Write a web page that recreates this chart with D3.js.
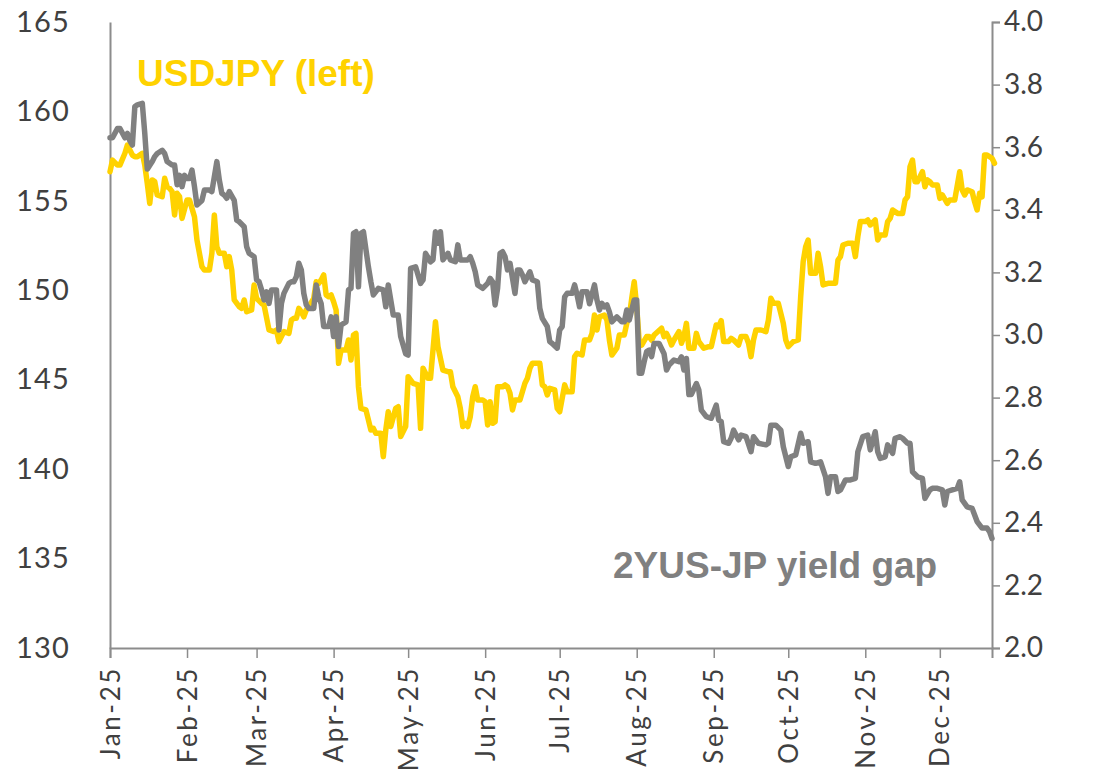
<!DOCTYPE html>
<html>
<head>
<meta charset="utf-8">
<script src="https://cdn.jsdelivr.net/npm/d3@7"></script>
<style>
  html, body { margin: 0; padding: 0; background: #fff; }
  svg { display: block; }
  .tick-label { font-family: "Lato", "Open Sans", sans-serif; font-weight: 400; fill: #404040; }
  .note { font-family: "Liberation Sans", Arial, sans-serif; font-weight: bold; }
</style>
</head>
<body>
<svg id="chart" width="1102" height="776"></svg>
<script>
// Calendar start of the series; day offsets below count from this date
const startDate = new Date(2025, 0, 1);
const endDay = 355;

const monthLabels = ["Jan-25","Feb-25","Mar-25","Apr-25","May-25","Jun-25","Jul-25","Aug-25","Sep-25","Oct-25","Nov-25","Dec-25"];
const leftTicks = [130, 135, 140, 145, 150, 155, 160, 165];
const rightTicks = [2.0, 2.2, 2.4, 2.6, 2.8, 3.0, 3.2, 3.4, 3.6, 3.8, 4.0];

// USDJPY spot (left axis)
const usdjpyDay = [0,1,3,4,6,7,9,10,11,13,14,15,16,17,18,19,21,22,23,24,25,26,27,28,29,31,32,33,34,35,37,38,40,41,42,43,44,46,47,48,49,50,52,53,54,55,57,58,59,61,62,64,66,67,68,70,72,73,74,75,76,77,78,79,80,82,83,84,85,86,87,88,89,90,91,92,93,95,96,97,98,99,100,101,103,104,105,106,107,109,110,111,112,113,115,116,117,119,120,122,124,125,126,128,129,131,132,134,136,137,138,140,141,142,143,144,145,146,147,148,150,151,152,153,154,155,156,158,159,160,161,162,163,165,167,168,169,170,173,174,175,176,177,179,180,181,183,184,186,187,188,190,191,193,194,195,196,197,199,200,201,202,204,205,207,208,209,210,211,212,213,214,216,217,218,219,222,223,224,225,226,227,229,230,231,232,233,235,236,237,239,241,242,244,245,246,247,249,250,251,253,254,256,257,258,259,260,262,264,265,266,267,269,271,272,273,275,277,278,279,280,281,282,284,285,286,287,289,292,293,294,295,297,299,300,301,302,304,305,306,308,309,310,312,313,314,315,317,319,320,321,322,323,324,325,327,328,329,330,331,333,334,335,337,338,340,342,343,344,345,347,348,349,350,351,352,353,355,356];
const usdjpyValue = [156.63,157.28,157.0,157.0,157.66,158.12,157.56,157.47,157.47,157.66,157.0,155.98,154.86,156.17,156.08,155.33,155.23,156.26,155.79,155.70,155.51,154.21,155.42,155.23,154.02,155.05,155.05,154.58,154.11,152.81,151.32,151.13,151.13,152.07,154.21,152.44,152.07,152.07,151.32,151.88,151.13,149.46,149.08,148.99,149.46,148.80,148.90,150.30,149.55,149.27,149.18,147.78,147.69,147.78,147.13,147.69,147.59,148.34,148.43,148.43,148.99,148.80,148.52,148.90,149.08,149.55,150.48,150.39,150.58,150.86,149.74,149.64,149.74,149.36,148.90,145.92,146.66,146.66,147.22,146.10,147.50,147.59,144.61,143.40,143.31,142.75,142.19,142.28,142.0,142.0,140.70,142.19,143.21,142.38,143.40,143.49,141.82,142.38,145.17,144.80,144.71,142.28,145.64,145.08,145.08,148.24,146.85,145.54,145.45,145.45,144.61,144.05,143.40,142.38,142.56,142.38,142.93,144.05,144.61,143.87,143.87,143.77,142.47,143.77,142.56,142.65,144.61,144.61,144.71,144.61,144.24,143.31,143.87,143.87,144.80,145.08,145.64,145.92,145.92,144.71,144.61,144.15,144.52,144.43,143.40,143.21,144.71,144.33,144.33,146.29,146.48,146.38,147.22,147.22,147.59,148.62,147.78,148.52,148.62,148.34,147.22,146.38,146.76,147.50,147.50,148.15,148.52,149.55,150.48,149.08,147.13,146.94,147.41,147.41,147.22,147.50,147.88,147.41,147.59,147.31,146.94,147.22,147.69,147.04,147.41,148.15,146.76,146.76,147.59,147.13,146.76,146.85,146.85,148.06,147.97,148.30,147.13,147.13,147.31,147.22,146.94,147.41,147.41,147.04,146.29,147.22,147.78,147.78,147.69,148.34,149.55,149.27,149.27,148.15,147.22,146.85,147.13,147.22,149.64,151.60,152.44,152.81,150.95,150.95,152.07,151.32,150.30,150.39,150.39,151.69,151.88,152.53,152.63,152.63,151.88,153.0,153.84,153.84,153.93,153.65,153.93,152.81,153.09,153.09,153.84,154.02,154.49,154.30,154.30,155.05,155.23,156.91,157.28,156.07,156.07,156.63,155.79,156.17,156.07,155.89,155.89,155.14,155.33,154.86,155.05,155.05,156.63,155.61,155.33,155.61,155.51,154.95,154.49,155.42,155.23,157.56,157.56,157.38,157.10];

// US-Japan 2-year yield gap, percentage points (right axis)
const gapDay = [0,1,3,4,6,7,8,9,10,11,13,14,15,17,18,19,21,22,23,25,26,27,28,29,30,31,32,33,34,35,37,38,40,41,42,43,44,45,46,47,48,50,51,52,54,55,56,58,59,60,61,62,63,64,65,67,68,69,70,72,73,74,75,76,77,78,79,80,82,83,84,85,86,88,89,90,91,92,93,95,96,97,98,99,100,101,102,104,105,106,108,110,111,112,113,114,116,117,119,120,121,123,125,126,127,129,130,131,132,133,134,136,137,139,140,141,144,145,146,147,148,150,152,153,154,155,156,157,158,159,160,161,162,163,164,165,166,167,168,169,170,172,173,174,176,177,178,180,181,182,183,184,186,187,188,189,190,192,193,195,196,197,198,199,200,201,202,204,206,207,208,209,210,211,212,213,214,215,216,217,218,219,221,223,224,225,227,229,230,231,232,233,234,236,237,238,240,242,244,245,246,247,249,250,251,253,254,256,258,259,261,264,265,266,268,270,271,273,274,276,278,279,281,282,284,286,288,289,290,292,293,294,296,298,300,301,303,305,306,308,309,310,312,313,315,316,318,319,321,322,323,325,327,328,330,331,333,335,336,337,339,341,342,343,345,347,349,351,353,354,355];
const gapValue = [3.63,3.63,3.66,3.66,3.63,3.644,3.62,3.607,3.73,3.735,3.74,3.644,3.53,3.554,3.57,3.58,3.59,3.58,3.554,3.543,3.543,3.48,3.51,3.474,3.51,3.50,3.50,3.527,3.474,3.415,3.43,3.463,3.463,3.458,3.506,3.554,3.495,3.453,3.447,3.437,3.458,3.43,3.367,3.362,3.346,3.282,3.261,3.25,3.176,3.17,3.144,3.112,3.138,3.101,3.144,3.144,3.016,3.101,3.133,3.165,3.17,3.17,3.186,3.229,3.208,3.133,3.096,3.085,3.085,3.16,3.122,3.10,3.027,3.027,3.058,2.995,3.058,2.963,3.032,3.042,3.144,3.149,3.325,3.33,3.154,3.325,3.33,3.218,3.17,3.128,3.149,3.144,3.09,3.16,3.112,3.064,3.064,2.995,2.94,2.936,3.213,3.218,3.165,3.176,3.261,3.234,3.24,3.33,3.293,3.33,3.24,3.261,3.24,3.234,3.288,3.24,3.24,3.25,3.229,3.202,3.16,3.149,3.165,3.181,3.17,3.096,3.149,3.261,3.266,3.25,3.208,3.229,3.181,3.133,3.208,3.208,3.192,3.17,3.186,3.202,3.176,3.17,3.085,3.053,3.027,2.979,2.973,2.958,3.016,3.027,3.122,3.133,3.133,3.16,3.128,3.09,3.138,3.138,3.10,3.16,3.112,3.08,3.101,3.09,3.096,3.074,3.042,3.058,3.042,3.042,3.08,3.048,3.08,3.112,3.112,2.878,2.878,2.915,2.947,2.952,2.931,2.973,2.973,2.94,2.888,2.904,2.92,2.915,2.93,2.888,2.925,2.81,2.81,2.845,2.824,2.76,2.739,2.734,2.776,2.728,2.723,2.659,2.654,2.67,2.696,2.665,2.68,2.675,2.627,2.675,2.654,2.649,2.654,2.712,2.712,2.696,2.643,2.58,2.611,2.617,2.686,2.654,2.659,2.595,2.59,2.595,2.547,2.494,2.547,2.547,2.50,2.505,2.537,2.537,2.542,2.627,2.675,2.68,2.633,2.691,2.627,2.606,2.611,2.649,2.622,2.67,2.675,2.67,2.654,2.654,2.563,2.547,2.542,2.478,2.505,2.51,2.51,2.505,2.457,2.50,2.505,2.51,2.531,2.473,2.451,2.446,2.404,2.383,2.383,2.372,2.35];

const svg = d3.select("#chart");
const margin = { left: 110, right: 110, top: 22, bottom: 128 };
const W = 1102, H = 776;
const x0 = margin.left, x1 = W - margin.right;
const y0 = H - margin.bottom, y1 = margin.top;

const toDate = d => d3.timeDay.offset(startDate, d);

const x = d3.scaleTime().domain([startDate, toDate(endDay)]).range([x0, x1]);
const yLeft = d3.scaleLinear().domain([130, 165]).range([y0, y1]);
const yRight = d3.scaleLinear().domain([2.0, 4.0]).range([y0, y1]);

const axisColor = "#8c8c8c";

// Bottom axis with month ticks
const monthStarts = d3.range(12).map(m => new Date(2025, m, 1));
const xAxis = d3.axisBottom(x).tickValues(monthStarts).tickSize(10).tickFormat((d, i) => monthLabels[i]);
const gx = svg.append("g").attr("transform", `translate(0,${y0})`).call(xAxis);
gx.select(".domain").attr("stroke", axisColor).attr("stroke-width", 2);
gx.selectAll(".tick line").attr("stroke", axisColor).attr("stroke-width", 1.5);
gx.selectAll(".tick text")
  .attr("class", "tick-label")
  .attr("font-size", 26)
  .attr("letter-spacing", "2.6px")
  .attr("text-anchor", "end")
  .attr("dy", "0.35em")
  .attr("transform", "translate(0,18) rotate(-90)")
  .attr("x", 0).attr("y", 0);

// Left axis: line only, labels to the left
const yAxisL = d3.axisLeft(yLeft).tickValues(leftTicks).tickSize(0).tickPadding(40).tickFormat(d3.format("d"));
const gl = svg.append("g").attr("transform", `translate(${x0},0)`).call(yAxisL);
gl.select(".domain").attr("stroke", axisColor).attr("stroke-width", 2);
gl.selectAll(".tick text").attr("class", "tick-label").attr("font-size", 29).attr("letter-spacing", "1.2px");

// Right axis with outward ticks
const yAxisR = d3.axisRight(yRight).tickValues(rightTicks).tickSize(8).tickPadding(4).tickFormat(d3.format(".1f"));
const gr = svg.append("g").attr("transform", `translate(${x1},0)`).call(yAxisR);
gr.select(".domain").attr("stroke", axisColor).attr("stroke-width", 2);
gr.selectAll(".tick line").attr("stroke", axisColor).attr("stroke-width", 1.5);
gr.selectAll(".tick text").attr("class", "tick-label").attr("font-size", 28);

// Series lines
const usdjpy = usdjpyDay.map((d, i) => ({ date: toDate(d), v: usdjpyValue[i] }));
const gap = gapDay.map((d, i) => ({ date: toDate(d), v: gapValue[i] }));

svg.append("path").datum(usdjpy)
  .attr("fill", "none").attr("stroke", "#ffd200").attr("stroke-width", 5.5)
  .attr("stroke-linejoin", "round").attr("stroke-linecap", "round")
  .attr("d", d3.line().x(d => x(d.date)).y(d => yLeft(d.v)));

svg.append("path").datum(gap)
  .attr("fill", "none").attr("stroke", "#808080").attr("stroke-width", 5.5)
  .attr("stroke-linejoin", "round").attr("stroke-linecap", "round")
  .attr("d", d3.line().x(d => x(d.date)).y(d => yRight(d.v)));

// Series annotations
svg.append("text").attr("class", "note")
  .attr("x", 137).attr("y", 86).attr("font-size", 37).attr("fill", "#ffd200")
  .text("USDJPY (left)");
svg.append("text").attr("class", "note")
  .attr("x", 613).attr("y", 578).attr("font-size", 37).attr("fill", "#808080")
  .text("2YUS-JP yield gap");
</script>
</body>
</html>
